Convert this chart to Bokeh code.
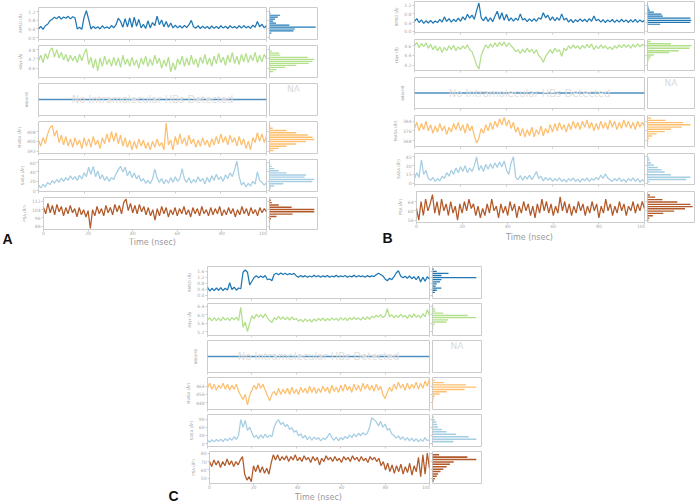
from bokeh.plotting import figure
from bokeh.layouts import row, column
from bokeh.models import Spacer, Label, FixedTicker, NumeralTickFormatter, Range1d
from bokeh.core.properties import value
from bokeh.embed import file_html
from bokeh.resources import INLINE

# ---------------- data ----------------
time_ns = list(range(0, 101))
time_ticks = [0, 20, 40, 60, 80, 100]
metric_labels = ["RMSD (Å)", "rGyr (Å)", "intraHB", "MolSA (Å²)", "SASA (Å²)", "PSA (Å²)"]
no_hb_text = "No Intramolecular HBs Detected"
na_text = "NA"
x_title = "Time (nsec)"
panel_letters = ["A", "B", "C"]

# Panel A
A_rmsd = [0.40,0.52,0.38,0.55,0.62,0.78,0.85,0.95,0.88,0.98,
          0.86,0.96,0.90,0.99,0.87,0.97,0.92,0.40,0.48,0.38,
          0.95,1.25,0.85,0.40,0.52,0.42,0.50,0.40,0.55,0.43,
          0.50,0.42,0.56,0.45,0.60,0.90,0.75,0.48,0.88,0.50,
          0.92,0.48,0.95,0.52,0.85,0.45,0.62,0.42,0.78,0.45,
          0.70,0.55,1.00,0.60,0.82,0.50,0.75,0.48,0.68,0.45,
          0.58,0.45,0.55,0.44,0.57,0.46,0.60,0.80,0.50,0.44,
          0.55,0.42,0.53,0.43,0.52,0.41,0.54,0.43,0.52,0.42,
          0.55,0.44,0.53,0.42,0.55,0.45,0.52,0.43,0.55,0.44,
          0.56,0.45,0.53,0.43,0.58,0.48,0.75,0.50,0.62,0.45,
          0.55]
A_rgyr = [4.68,4.74,4.66,4.76,4.70,4.79,4.82,4.72,4.80,4.71,
          4.77,4.69,4.75,4.67,4.74,4.68,4.73,4.66,4.75,4.68,
          4.76,4.81,4.64,4.72,4.60,4.70,4.57,4.71,4.62,4.73,
          4.64,4.70,4.62,4.72,4.63,4.71,4.61,4.74,4.64,4.70,
          4.62,4.72,4.63,4.69,4.60,4.71,4.64,4.73,4.62,4.70,
          4.63,4.74,4.65,4.71,4.60,4.69,4.62,4.72,4.56,4.66,
          4.58,4.70,4.64,4.73,4.62,4.71,4.63,4.74,4.64,4.70,
          4.61,4.72,4.65,4.75,4.64,4.71,4.62,4.73,4.65,4.76,
          4.66,4.72,4.63,4.74,4.66,4.77,4.65,4.73,4.64,4.75,
          4.67,4.76,4.66,4.74,4.68,4.77,4.66,4.74,4.67,4.75,
          4.70]
A_intrahb = [0] * len(time_ns)
A_molsa = [401,396,403,398,406,411,413,404,409,399,
           405,397,404,396,402,395,403,397,401,394,
           403,396,402,395,404,397,401,394,403,398,
           406,399,408,400,407,398,405,396,403,395,
           401,393,400,394,402,396,401,394,399,393,
           400,395,402,396,399,393,415,397,401,393,
           404,397,406,398,403,396,405,398,402,395,
           401,396,403,397,401,395,402,397,404,398,
           406,399,404,397,405,399,403,396,404,397,
           402,394,400,393,403,399,407,400,406,399,
           404]
A_sasa = [12,6,14,8,18,13,22,16,24,18,
          27,20,28,22,32,24,30,22,33,25,
          38,30,50,35,52,30,42,25,34,22,
          30,20,28,24,36,45,52,40,50,32,
          42,28,38,25,33,20,26,16,22,15,
          25,46,28,18,26,15,24,16,28,18,
          30,20,26,47,25,18,28,16,24,18,
          30,20,26,15,28,18,32,22,35,24,
          30,20,34,26,38,30,45,63,30,12,
          18,8,16,10,20,14,40,22,18,12,
          17]
A_psa = [106,100,110,101,108,99,109,102,107,98,
         106,100,108,101,105,97,106,99,104,97,
         103,86,104,98,107,100,105,98,108,101,
         106,99,109,102,108,100,111,114,103,110,
         101,108,100,109,102,107,99,106,98,104,
         94,105,98,107,100,106,97,104,99,106,
         98,105,100,107,99,104,97,106,100,105,
         98,107,100,104,98,106,99,105,100,107,
         98,104,99,106,100,105,97,104,99,107,
         100,105,98,106,100,104,98,106,101,105,
         102]

# Panel A histograms (bin centre, relative count)
A_rmsd_hy = [1.22, 1.13, 1.04, 0.95, 0.86, 0.77, 0.67, 0.58, 0.49, 0.40, 0.31, 0.21]
A_rmsd_hn = [0.01, 0.02, 0.23, 0.18, 0.12, 0.08, 0.14, 0.43, 1.00, 0.55, 0.52, 0.04]
A_rgyr_hy = [4.784, 4.762, 4.740, 4.718, 4.696, 4.674, 4.652, 4.630, 4.608, 4.586, 4.564]
A_rgyr_hn = [0.05, 0.21, 0.23, 0.83, 0.97, 0.93, 0.85, 0.58, 0.34, 0.15, 0.08]
A_molsa_hy = [414.4, 412.5, 410.7, 408.9, 407.0, 405.2, 403.3, 401.5, 399.7, 397.8, 396.0, 394.2, 392.4]
A_molsa_hn = [0.01, 0.02, 0.07, 0.37, 0.58, 0.83, 0.93, 0.97, 0.79, 0.58, 0.37, 0.20, 0.09]
A_sasa_hy = [61.5, 56.8, 52.0, 47.2, 42.5, 38.0, 33.5, 29.0, 24.3, 19.8, 15.0, 10.3, 5.6]
A_sasa_hn = [0.01, 0.02, 0.05, 0.10, 0.20, 0.37, 0.79, 0.76, 0.97, 0.93, 0.30, 0.10, 0.03]
A_psa_hy = [115.1, 112.9, 110.7, 108.5, 106.3, 104.1, 101.9, 99.7, 97.5, 95.3, 93.1, 86.5]
A_psa_hn = [0.01, 0.03, 0.05, 0.20, 0.48, 0.97, 0.97, 0.50, 0.15, 0.03, 0.01, 0.01]

# Panel B
B_rmsd = [0.45,0.58,0.40,0.52,0.36,0.48,0.38,0.50,0.37,0.47,
          0.40,0.55,0.42,0.66,0.45,0.58,0.42,0.55,0.44,0.60,
          0.46,0.66,0.52,0.78,0.60,0.74,0.55,0.95,1.30,0.62,
          0.48,0.66,0.45,0.62,0.44,0.70,0.92,0.55,0.85,0.50,
          0.78,0.48,0.62,0.46,0.60,0.50,0.80,0.52,0.58,0.44,
          0.57,0.45,0.58,0.46,0.62,0.55,0.85,0.62,0.74,0.50,
          0.66,0.48,0.63,0.50,0.80,0.52,0.60,0.42,0.55,0.40,
          0.53,0.44,0.57,0.45,0.55,0.43,0.58,0.46,0.70,0.48,
          0.55,0.42,0.53,0.40,0.52,0.43,0.54,0.41,0.52,0.42,
          0.55,0.43,0.52,0.40,0.53,0.42,0.55,0.41,0.52,0.43,
          0.50]
B_rgyr = [4.60,4.67,4.56,4.65,4.58,4.66,4.55,4.63,4.52,4.60,
          4.50,4.58,4.46,4.57,4.50,4.60,4.52,4.61,4.50,4.58,
          4.52,4.60,4.54,4.62,4.52,4.48,4.35,4.20,4.12,4.40,
          4.52,4.62,4.55,4.64,4.57,4.66,4.58,4.67,4.60,4.68,
          4.58,4.66,4.60,4.55,4.48,4.52,4.44,4.53,4.46,4.55,
          4.47,4.53,4.44,4.52,4.40,4.35,4.26,4.38,4.45,4.52,
          4.44,4.55,4.48,4.52,4.38,4.55,4.50,4.60,4.54,4.62,
          4.55,4.60,4.53,4.61,4.55,4.63,4.56,4.64,4.52,4.60,
          4.54,4.62,4.55,4.60,4.53,4.58,4.52,4.60,4.55,4.62,
          4.56,4.63,4.57,4.62,4.55,4.63,4.57,4.64,4.58,4.63,
          4.60]
B_intrahb = [0] * len(time_ns)
B_molsa = [378,383,376,382,377,384,376,381,374,380,
           375,382,376,380,373,379,375,382,377,383,
           376,381,374,382,376,380,372,366,370,378,
           374,381,376,383,377,384,379,386,381,387,
           380,385,378,383,375,379,372,378,371,377,
           372,379,371,377,373,380,372,378,374,381,
           375,382,376,383,377,381,375,382,377,384,
           378,383,377,384,379,385,378,383,376,382,
           377,384,378,383,377,385,379,384,377,383,
           378,385,379,384,378,383,377,384,379,383,
           380]
B_sasa = [8,18,10,40,15,22,8,5,10,3,
          8,4,12,8,18,12,22,15,26,18,
          28,20,30,18,26,20,30,45,22,30,
          20,32,24,33,25,35,27,36,28,38,
          22,15,35,45,10,6,13,5,12,7,
          14,6,12,20,8,12,4,10,5,9,
          3,8,4,9,3,7,2,8,4,9,
          3,7,2,8,4,9,3,8,5,10,
          6,14,8,16,9,6,3,8,4,9,
          3,7,2,8,4,9,3,8,2,6,
          3]
B_psa = [61,56,64,58,65,60,63,67,59,64,
         58,65,60,63,58,64,59,62,56,63,
         59,64,60,65,61,63,58,62,57,61,
         58,63,59,65,60,62,57,63,59,62,
         58,64,60,63,57,62,59,64,60,63,
         58,62,57,63,59,65,60,64,59,63,
         58,62,59,66,60,64,59,63,58,62,
         59,64,60,63,58,62,59,64,60,63,
         57,62,59,65,60,63,58,62,59,64,
         60,63,58,62,60,64,59,63,60,64,
         61]

B_rmsd_hy = [1.24, 1.15, 1.06, 0.97, 0.88, 0.79, 0.70, 0.60, 0.50, 0.41, 0.32]
B_rmsd_hn = [0.01, 0.02, 0.03, 0.05, 0.14, 0.31, 0.34, 0.95, 0.97, 0.95, 0.28]
B_rgyr_hy = [4.69, 4.64, 4.60, 4.55, 4.50, 4.46, 4.41, 4.37, 4.32, 4.28, 4.23, 4.18, 4.14]
B_rgyr_hn = [0.07, 0.52, 0.97, 0.93, 0.69, 0.48, 0.14, 0.07, 0.04, 0.02, 0.01, 0.01, 0.01]
B_molsa_hy = [386.4, 384.6, 382.8, 381.0, 379.1, 377.3, 375.4, 373.6, 371.8, 369.9, 368.1, 366.2]
B_molsa_hn = [0.08, 0.40, 0.79, 0.95, 0.76, 0.52, 0.38, 0.20, 0.10, 0.04, 0.02, 0.01]
B_sasa_hy = [47.5, 43.5, 39.5, 35.0, 31.0, 26.7, 22.8, 19.0, 14.5, 10.0, 6.2, 2.3]
B_sasa_hn = [0.01, 0.03, 0.05, 0.08, 0.14, 0.23, 0.31, 0.38, 0.52, 0.95, 0.86, 0.05]
B_psa_hy = [66.8, 65.9, 64.8, 63.8, 62.8, 61.8, 60.9, 59.9, 58.9, 57.9, 56.9, 55.9]
B_psa_hn = [0.05, 0.17, 0.33, 0.66, 0.95, 1.00, 0.83, 0.59, 0.35, 0.12, 0.04, 0.02]

# Panel C
C_rmsd = [0.55,0.30,0.48,0.32,0.50,0.35,0.52,0.33,0.48,0.36,
          0.85,0.40,0.55,0.35,0.50,0.45,1.55,1.70,1.55,0.70,
          0.95,1.20,1.32,1.18,1.30,1.20,1.33,1.05,1.10,0.98,
          1.40,1.48,1.38,1.50,1.40,1.48,1.38,1.46,1.40,1.47,
          1.30,1.22,1.33,1.24,1.32,1.22,1.30,1.23,1.34,1.25,
          1.32,1.22,1.31,1.24,1.33,1.22,1.30,1.24,1.34,1.23,
          1.31,1.25,1.33,1.22,1.30,1.24,1.34,1.23,1.32,1.25,
          1.30,1.22,1.33,1.24,1.31,1.26,1.38,1.48,1.40,1.30,
          1.10,0.98,1.15,1.05,1.25,1.50,1.65,1.30,1.18,1.28,
          1.15,1.30,1.12,1.25,1.05,1.28,0.90,1.22,0.95,1.25,
          1.10]
C_rgyr = [5.75,5.85,5.70,5.86,5.72,5.84,5.70,5.88,5.74,5.85,
          5.72,5.87,5.75,5.88,5.72,6.35,5.40,5.65,5.20,5.60,
          5.95,5.80,6.02,5.88,6.00,5.86,6.04,5.85,5.72,5.62,
          5.85,5.76,5.92,5.78,5.90,5.75,5.88,5.74,5.90,5.76,
          5.82,5.68,5.78,5.66,5.80,5.68,5.77,5.65,5.80,5.70,
          5.82,5.72,5.84,5.70,5.82,5.72,5.85,5.74,5.83,5.71,
          5.86,5.74,5.84,5.72,5.86,5.75,5.88,5.76,5.85,5.74,
          5.88,5.76,5.90,5.78,5.92,5.85,5.98,5.88,6.00,5.86,
          5.95,6.28,5.90,6.00,5.84,5.98,5.86,6.02,5.88,5.96,
          5.82,6.00,5.86,6.04,5.88,5.98,5.84,6.05,5.90,6.24,
          5.95]
C_intrahb = [0] * len(time_ns)
C_molsa = [462,467,461,466,460,465,462,467,461,466,
           460,465,461,466,459,455,451,456,446,455,
           460,465,461,467,462,466,460,455,450,456,
           459,455,462,456,461,457,462,456,463,457,
           461,456,463,458,462,457,464,458,463,457,
           462,458,464,459,463,457,465,459,463,458,
           465,459,466,460,464,458,466,460,465,459,
           467,461,466,460,465,459,466,460,464,456,
           452,458,463,459,466,461,468,462,466,460,
           467,461,466,462,468,461,467,462,469,464,
           471]
C_sasa = [12,5,14,6,15,8,16,7,18,10,
          20,12,25,15,30,88,60,85,48,60,
          40,22,30,18,32,20,35,22,30,25,
          60,78,88,70,78,62,70,52,58,42,
          48,28,36,20,30,14,25,12,24,15,
          22,10,20,14,24,38,22,12,24,10,
          22,14,26,18,32,22,35,25,38,28,
          40,32,38,60,95,88,80,65,82,60,
          72,50,55,35,30,20,28,15,25,12,
          22,10,20,8,18,6,16,8,22,10,
          15]
C_psa = [70,64,72,66,71,63,70,65,73,66,
         71,64,70,66,72,76,55,48,52,46,
         65,58,66,57,64,56,62,55,68,78,
         72,78,71,76,72,77,70,76,72,78,
         71,75,70,77,72,75,69,76,71,75,
         66,74,70,77,72,75,70,76,71,74,
         69,76,72,75,70,77,72,75,70,76,
         71,74,69,76,72,75,70,74,65,70,
         60,68,58,66,56,65,58,67,55,64,
         57,68,54,65,58,75,52,78,55,80,
         62]

C_rmsd_hy = [1.75, 1.61, 1.47, 1.33, 1.19, 1.05, 0.91, 0.77, 0.63, 0.49, 0.35, 0.21]
C_rmsd_hn = [0.03, 0.09, 0.34, 0.19, 0.93, 0.19, 0.16, 0.09, 0.07, 0.19, 0.09, 0.05]
C_rgyr_hy = [6.37, 6.27, 6.17, 6.07, 5.96, 5.86, 5.75, 5.65, 5.55, 5.45, 5.35, 5.25]
C_rgyr_hn = [0.02, 0.05, 0.06, 0.23, 0.75, 0.93, 0.33, 0.30, 0.05, 0.02, 0.02, 0.01]
C_molsa_hy = [469.7, 467.5, 465.3, 463.1, 460.9, 458.7, 456.5, 454.3, 452.1, 449.9, 447.7, 445.5]
C_molsa_hn = [0.05, 0.24, 0.71, 0.93, 0.68, 0.30, 0.15, 0.05, 0.03, 0.02, 0.01, 0.01]
C_sasa_hy = [97, 88, 79, 70, 61, 52, 43, 34, 25, 16, 7]
C_sasa_hn = [0.03, 0.05, 0.08, 0.10, 0.12, 0.20, 0.30, 0.50, 0.77, 0.93, 0.44]
C_psa_hy = [78.2, 75.3, 72.4, 69.6, 66.7, 63.9, 61.0, 58.2, 55.3, 52.5, 49.6, 46.8]
C_psa_hn = [0.14, 0.74, 0.93, 0.45, 0.37, 0.30, 0.23, 0.17, 0.12, 0.09, 0.05, 0.03]

# y tick values
A_yticks = [[0.0, 0.4, 0.8, 1.2], [4.6, 4.7, 4.8], [], [392, 400, 408], [0, 20, 40, 60], [88, 96, 104, 112]]
B_yticks = [[0.0, 0.4, 0.8, 1.2], [4.2, 4.4, 4.6], [], [368, 376, 384], [0, 15, 30, 45], [56, 60, 64]]
C_yticks = [[0.0, 0.4, 0.8, 1.2, 1.6], [5.2, 5.6, 6.0, 6.4], [], [448, 456, 464], [0, 30, 60, 90], [50, 60, 70, 80]]

# ---------------- styling / geometry ----------------
FONT = "DejaVu Sans"
COLORS = ["#1f78b4", "#b2df8a", "#4f8fbf", "#fdbf6f", "#a6cee3", "#b15928"]
FORMATS = ["0.0", "0.0", "0", "0", "0", "0"]
FRAME_COLOR = "#cccccc"
TICK_TEXT = "#aaaaaa"

YR = {
    "A": [(-0.09, 1.40), (4.50, 4.845), (-1, 1), (390, 416.2), (-1.5, 66.5), (85, 115.6)],
    "B": [(-0.06, 1.37), (4.09, 4.73), (-1, 1), (363.2, 388.6), (-2.2, 50.7), (55, 68.3)],
    "C": [(-0.2, 1.93), (5.01, 6.53), (-1, 1), (441.4, 472.5), (-11, 107), (43.9, 82)],
}
# strip = height of the strip under the last row holding the x title;
# title_y = title centre, px above the strip bottom; letter_base = letter baseline,
# px above the bottom of (last row + strip)
GEOM = {
    "A": dict(left=38, fw=228, hw=48, fh=32, tops=[7, 1, 4, 1, 1, 1], bots=[5, 2, 5, 5, 5, 9],
              strip=12, title_y=8, letter_w=18, letter_x=2, letter_base=12),
    "B": dict(left=96, fw=230, hw=47, fh=31, tops=[1, 1, 4, 1, 1, 1], bots=[6, 3, 6, 6, 6, 9],
              strip=14, title_y=8, letter_w=76, letter_x=64, letter_base=8),
    "C": dict(left=47, fw=222, hw=49, fh=32, tops=[16, 1, 3, 1, 1, 1], bots=[4, 2, 4, 4, 4, 8],
              strip=12, title_y=6, letter_w=27, letter_x=8, letter_base=8),
}

PANELS = {
    "A": dict(series=[A_rmsd, A_rgyr, A_intrahb, A_molsa, A_sasa, A_psa],
              hist=[(A_rmsd_hy, A_rmsd_hn), (A_rgyr_hy, A_rgyr_hn), None,
                    (A_molsa_hy, A_molsa_hn), (A_sasa_hy, A_sasa_hn), (A_psa_hy, A_psa_hn)],
              yticks=A_yticks),
    "B": dict(series=[B_rmsd, B_rgyr, B_intrahb, B_molsa, B_sasa, B_psa],
              hist=[(B_rmsd_hy, B_rmsd_hn), (B_rgyr_hy, B_rgyr_hn), None,
                    (B_molsa_hy, B_molsa_hn), (B_sasa_hy, B_sasa_hn), (B_psa_hy, B_psa_hn)],
              yticks=B_yticks),
    "C": dict(series=[C_rmsd, C_rgyr, C_intrahb, C_molsa, C_sasa, C_psa],
              hist=[(C_rmsd_hy, C_rmsd_hn), (C_rgyr_hy, C_rgyr_hn), None,
                    (C_molsa_hy, C_molsa_hn), (C_sasa_hy, C_sasa_hn), (C_psa_hy, C_psa_hn)],
              yticks=C_yticks),
}


def no_frame_align(p):
    try:
        p.frame_align = False
    except Exception:
        pass


def base_fig(width, height, xr, yr, bl, br, bt, bb, x_axis=True, y_axis=True):
    p = figure(width=width, height=height, x_range=Range1d(*xr), y_range=Range1d(*yr),
               output_backend="svg", toolbar_location=None, tools="",
               x_axis_location="below" if x_axis else None,
               y_axis_location="left" if y_axis else None,
               min_border_left=bl, min_border_right=br, min_border_top=bt, min_border_bottom=bb)
    p.grid.visible = False
    p.outline_line_color = FRAME_COLOR
    p.outline_line_width = 1
    p.border_fill_color = None
    p.background_fill_color = "white"
    return p


def blank_fig(width, height):
    p = figure(width=width, height=height, x_range=Range1d(0, width), y_range=Range1d(0, height),
               output_backend="svg", toolbar_location=None, tools="",
               x_axis_location=None, y_axis_location=None,
               min_border_left=0, min_border_right=0, min_border_top=0, min_border_bottom=0)
    no_frame_align(p)
    p.grid.visible = False
    p.outline_line_color = None
    p.border_fill_color = None
    p.background_fill_color = None
    return p


def style_axis(ax, ticks, show_labels, fmt=None, standoff=1):
    ax.ticker = FixedTicker(ticks=ticks)
    if fmt is not None:
        ax.formatter = NumeralTickFormatter(format=fmt)
    ax.axis_line_color = None
    ax.major_tick_line_color = FRAME_COLOR
    ax.major_tick_out = 2
    ax.major_tick_in = 0
    ax.minor_tick_line_color = None
    ax.major_label_text_font = FONT
    ax.major_label_text_font_size = "4.5px"
    if show_labels:
        ax.major_label_text_color = TICK_TEXT
        ax.major_label_standoff = standoff
    else:
        ax.major_label_text_color = None
        ax.major_label_standoff = 0


def build_panel(key, letter):
    g = GEOM[key]
    d = PANELS[key]
    rows = []
    for i in range(6):
        yr = YR[key][i]
        h = g["tops"][i] + g["fh"] + g["bots"][i]
        last = (i == 5)
        left = g["left"] - (g["letter_w"] if last else 0)
        # time series figure
        tp = base_fig(left + g["fw"] + 1, h, (0, 100), yr, left, 1,
                      g["tops"][i], g["bots"][i])
        tp.line(time_ns, d["series"][i], line_color=COLORS[i],
                line_width=1.5 if i == 2 else 1.25)
        style_axis(tp.xaxis[0], time_ticks, last, standoff=-1)
        ya = tp.yaxis[0]
        style_axis(ya, d["yticks"][i], True, FORMATS[i])
        ya.axis_label = metric_labels[i]
        ya.axis_label_text_font = FONT
        ya.axis_label_text_font_size = "4px"
        ya.axis_label_text_font_style = "normal"
        ya.axis_label_text_color = "#999999"
        ya.axis_label_standoff = 10 if i == 2 else 2
        if i == 2:
            tp.add_layout(Label(x=50, y=0, text=no_hb_text, text_align="center",
                                text_baseline="middle", text_font=FONT,
                                text_font_size="10px", text_color="#dedede"))
        # histogram figure
        hp = base_fig(2 + g["hw"] + 1, h, (0, 1.04), yr, 2, 1, g["tops"][i], g["bots"][i],
                      x_axis=False)
        style_axis(hp.yaxis[0], d["yticks"][i], False)
        hist = d["hist"][i]
        if hist is None:
            hp.add_layout(Label(x=0.52, y=yr[1], text=na_text, text_align="center",
                                text_baseline="top", text_font=FONT,
                                text_font_size="9px", text_color="#d9d9d9"))
        else:
            hy, hn = hist
            step = abs(hy[0] - hy[1])
            hp.hbar(y=hy, right=hn, left=0, height=0.62 * step,
                    fill_color=COLORS[i], line_color=None)
        if not last:
            rows.append(row(tp, hp))
            continue
        # last row: letter on the left, x title in a strip below the time axis
        tf = blank_fig(g["fw"], g["strip"])
        tf.text(x=[g["fw"] / 2], y=[g["title_y"]], text=[x_title],
                text_font=value(FONT), text_font_size="8px", text_color="#999999",
                text_align="center", text_baseline="middle")
        lf = blank_fig(g["letter_w"], h + g["strip"])
        lf.text(x=[g["letter_x"]], y=[g["letter_base"]], text=[letter],
                text_font=value("Liberation Sans"), text_font_style="bold",
                text_font_size="14px", text_color="#111111",
                text_align="left", text_baseline="alphabetic")
        right_part = column(row(tp, hp), row(Spacer(width=left, height=g["strip"]), tf))
        rows.append(row(lf, right_part))
    return column(*rows)


panel_a = build_panel("A", panel_letters[0])
panel_b = build_panel("B", panel_letters[1])
panel_c = build_panel("C", panel_letters[2])

top = row(panel_a, panel_b)
bottom = row(Spacer(width=160, height=10), panel_c)
root = column(top, bottom)

open("out.html", "w").write(file_html(root, INLINE))
